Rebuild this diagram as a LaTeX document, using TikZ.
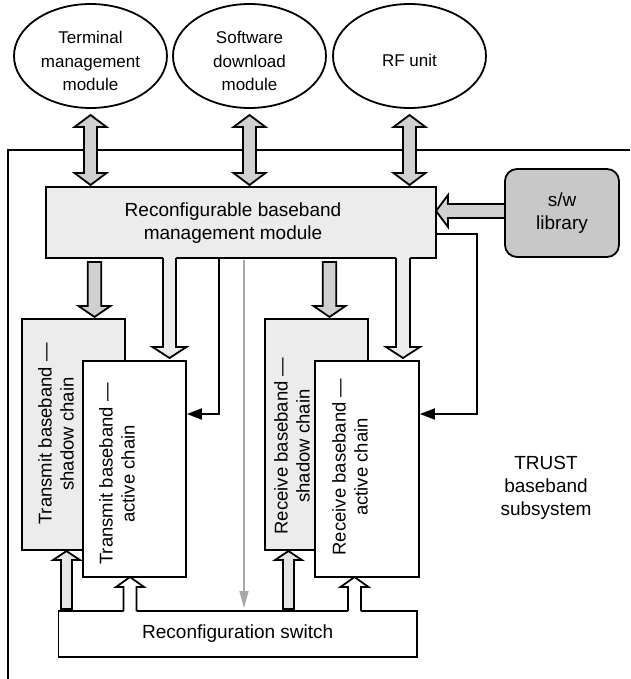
\documentclass[tikz,border=0pt]{standalone}
\usepackage{fontspec}
\setmainfont{Liberation Sans}
\usetikzlibrary{shapes.geometric,arrows.meta,calc}
\definecolor{boxfill}{HTML}{ECECEC}
\definecolor{arrowgray}{HTML}{D0D0D0}
\definecolor{libgray}{HTML}{C8C8C8}
\definecolor{lightarrow}{HTML}{E6E6E6}
\definecolor{linegray}{HTML}{A8A8A8}
% vertical block arrow: x, ybase, ytip, shaft half, head half, signed head length, style
\newcommand\blockv[7]{%
  \draw[#7] ({#1-#4},#2) -- ({#1-#4},{#3-#6}) -- ({#1-#5},{#3-#6}) -- (#1,#3) -- ({#1+#5},{#3-#6}) -- ({#1+#4},{#3-#6}) -- ({#1+#4},#2) -- cycle;}
% vertical block arrow open at its base: x, ybase, ytip, s, h, L, fill colour, signed fill extension
\newcommand\blockvopen[8]{%
  \fill[#7] ({#1-#4},{#2-#8}) -- ({#1-#4},{#3-#6}) -- ({#1-#5},{#3-#6}) -- (#1,#3) -- ({#1+#5},{#3-#6}) -- ({#1+#4},{#3-#6}) -- ({#1+#4},{#2-#8}) -- cycle;
  \draw[outline] ({#1-#4},#2) -- ({#1-#4},{#3-#6}) -- ({#1-#5},{#3-#6}) -- (#1,#3) -- ({#1+#5},{#3-#6}) -- ({#1+#4},{#3-#6}) -- ({#1+#4},#2);}
% double-headed vertical block arrow: x, ytop, ybot, s, h, L
\newcommand\blockdv[6]{%
  \draw[fatarrow] (#1,#2) -- ({#1+#5},{#2+#6}) -- ({#1+#4},{#2+#6}) -- ({#1+#4},{#3-#6}) -- ({#1+#5},{#3-#6}) -- (#1,#3) -- ({#1-#5},{#3-#6}) -- ({#1-#4},{#3-#6}) -- ({#1-#4},{#2+#6}) -- ({#1-#5},{#2+#6}) -- cycle;}
% horizontal block arrow: y, xbase, xtip, s, h, signed head length, style
\newcommand\blockh[7]{%
  \draw[#7] (#2,{#1-#4}) -- ({#3+#6},{#1-#4}) -- ({#3+#6},{#1-#5}) -- (#3,#1) -- ({#3+#6},{#1+#5}) -- ({#3+#6},{#1+#4}) -- (#2,{#1+#4}) -- cycle;}
\begin{document}
\begin{tikzpicture}[x=1pt,y=-1pt,
  outline/.style={draw=black, line width=1.8pt},
  fatarrow/.style={outline, fill=arrowgray},
  lightfat/.style={outline, fill=lightarrow},
  whitefat/.style={outline, fill=white},
  box/.style={outline, rectangle, inner sep=0pt},
  oval/.style={outline, ellipse, minimum width=153pt, minimum height=104pt, inner sep=0pt},
  txt/.style={font=\fontsize{19}{23}\selectfont, align=center, inner sep=0pt},
  etxt/.style={font=\fontsize{17}{23.5}\selectfont, align=center, inner sep=0pt},
  rtxt/.style={font=\fontsize{18.5}{22}\selectfont, align=center, inner sep=0pt, rotate=90},
  conn/.style={line width=1.9pt, -{Triangle[length=15pt,width=11pt]}},
  gconn/.style={draw=linegray, line width=1.4pt, -{Triangle[length=17pt,width=9pt]}}
]
\useasboundingbox (0,0) rectangle (630,679);

% subsystem frame (open to the right and bottom)
\draw[line width=2pt] (630,150) -- (8,150) -- (8,679);

% external modules
\node[oval] (e1) at (90.5,56) {};
\node[oval] (e2) at (249.5,56) {};
\node[oval] (e3) at (409.5,56) {};
\node[etxt] (e1t) at (90.5,61) {Terminal\\management\\module};
\node[etxt] (e2t) at (249.5,61) {Software\\download\\module};
\node[etxt] (e3t) at (409.5,60) {RF unit};

% double arrows between modules and management
\blockdv{90.5}{115}{185}{6.5}{16}{12}
\blockdv{249.5}{115}{185}{6.5}{16}{12}
\blockdv{409.5}{115}{185}{6.5}{16}{12}

% management module
\node[box, fill=boxfill, minimum width=390pt, minimum height=71pt] (mgmt) at (241,222.5) {};
\node[txt] (mgmtt) at (233,223) {Reconfigurable baseband\\management module};

% s/w library
\node[box, fill=libgray, rounded corners=12pt, minimum width=114pt, minimum height=88pt, txt] (lib) at (562,213) {s/w\\library};
\blockh{211}{505}{436}{7}{16}{12}{fatarrow}

% chains
\node[box, fill=boxfill, minimum width=103pt, minimum height=231pt] (tsh) at (73.5,434.5) {};
\node[box, fill=white, minimum width=103pt, minimum height=216pt] (tac) at (134.5,469) {};
\node[box, fill=boxfill, minimum width=103pt, minimum height=231pt] (rsh) at (316.5,434.5) {};
\node[box, fill=white, minimum width=104pt, minimum height=216pt] (rac) at (367,469) {};
\node[rtxt] (tsht) at (56,434) {Transmit baseband ---\\shadow chain};
\node[rtxt] (tact) at (117,474) {Transmit baseband ---\\active chain};
\node[rtxt] (rsht) at (292,446) {Receive baseband ---\\shadow chain};
\node[rtxt] (ract) at (350,467) {Receive baseband ---\\active chain};

% reconfiguration switch
\node[box, fill=white, minimum width=358.5pt, minimum height=46pt, txt] (sw) at (237.75,634) {Reconfiguration switch};

% management -> shadow chains
\blockv{94.5}{262}{317}{6.8}{16}{11}{fatarrow}
\blockv{329.5}{262}{317}{6.8}{16}{11}{fatarrow}
% management -> active chains (open into the management box)
\blockvopen{169.5}{258}{358}{6.5}{17}{11}{boxfill}{2}
\blockvopen{403}{258}{358}{7}{17}{11}{boxfill}{2}

% control lines
\coordinate (l1) at (219,414);
\draw[conn] (mgmt.south -| l1) -- (l1) -- (l1 -| tac.east);
\coordinate (r1) at (477,234);
\coordinate (r2) at (477,414);
\draw[conn] (r1 -| mgmt.east) -- (r1) -- (r2) -- (r2 -| rac.east);
\coordinate (g1) at (244,0);
\draw[gconn] ($(mgmt.south -| g1)+(0,1)$) -- ($(sw.north -| g1)+(0,-2)$);

% switch -> shadow chains
\blockv{66.5}{609}{551}{5.5}{13.5}{-9}{lightfat}
\blockv{288.5}{609}{551}{5.5}{13.5}{-9}{lightfat}
% switch -> active chains (open into the switch box)
\blockvopen{130}{611}{577}{6.5}{14}{-10}{white}{-2}
\blockvopen{354.5}{611}{577}{6.5}{14}{-10}{white}{-2}

% subsystem label
\node[txt] (trust) at (546,488) {TRUST\\baseband\\subsystem};
\end{tikzpicture}
\end{document}
